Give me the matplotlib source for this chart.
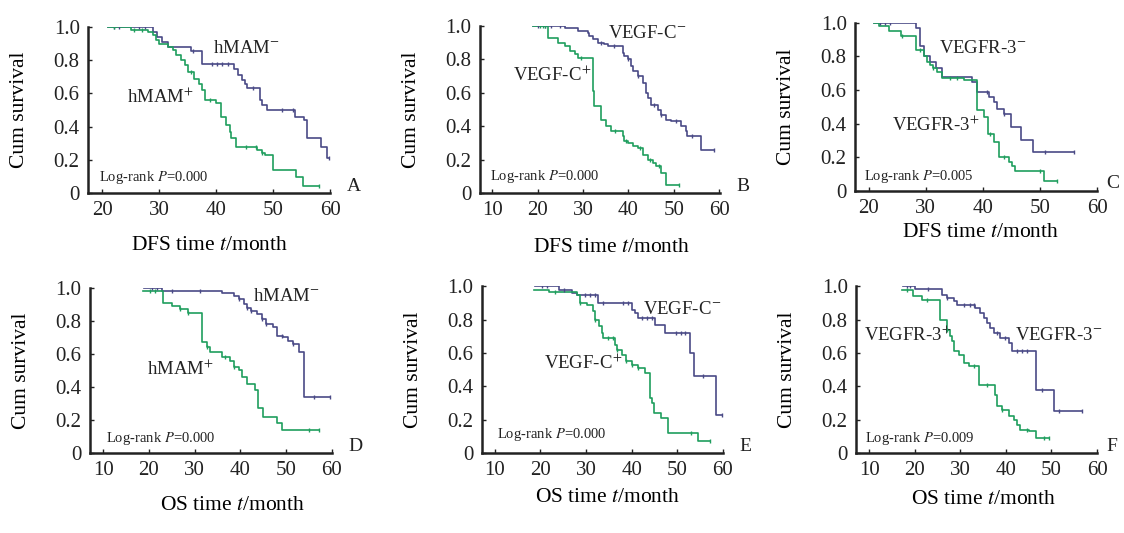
import numpy as np
import matplotlib.pyplot as plt

plt.rcParams['font.family'] = ['Liberation Serif', 'DejaVu Serif']
plt.rcParams['mathtext.fontset'] = 'stix'

BLUE = '#4a4a86'
GREEN = '#1f9e5e'

# ---- A: DFS, hMAM ----
a_neg_t = [21, 29, 29.7, 30.5, 31.5, 35.5, 37.5, 43.2, 43.8, 44.5, 45, 45.5, 47.7, 48, 49, 53.8, 55.5, 56, 58.5, 59.5, 59.8]
a_neg_s = [1.0, 0.97, 0.94, 0.91, 0.88, 0.855, 0.78, 0.745, 0.71, 0.68, 0.655, 0.635, 0.56, 0.53, 0.50, 0.46, 0.44, 0.33, 0.28, 0.21, 0.21]
a_neg_c = [22, 23, 26.5, 27.5, 36, 39.2, 40.2, 41, 42, 46.5, 51.5, 53.5, 59.8]
a_pos_t = [21, 25, 28, 29, 29.5, 30, 31.5, 32.5, 33, 33.8, 34.5, 35, 36.2, 37, 37.5, 38, 40, 40.8, 41.8, 42.4, 42.7, 43.5, 47.2, 48, 48.5, 50, 54, 55.2, 58]
a_pos_s = [1.0, 0.985, 0.97, 0.95, 0.92, 0.90, 0.88, 0.86, 0.83, 0.80, 0.77, 0.73, 0.69, 0.66, 0.62, 0.56, 0.54, 0.46, 0.41, 0.37, 0.33, 0.28, 0.26, 0.24, 0.23, 0.14, 0.096, 0.04, 0.04]
a_pos_c = [22, 25.5, 27, 35.5, 39, 45.2, 47, 48, 58]

# ---- B: DFS, VEGF-C ----
b_neg_t = [19, 26, 28.9, 31.1, 31.4, 32.2, 33.3, 34.7, 35.5, 38.8, 39.1, 39.9, 40.6, 41.0, 42.1, 43.2, 43.9, 44.4, 45.0, 46.5, 47.2, 48.3, 49.4, 51.6, 52.7, 53.0, 56.1, 58.9]
b_neg_s = [1.0, 0.986, 0.97, 0.96, 0.94, 0.92, 0.90, 0.89, 0.88, 0.84, 0.82, 0.80, 0.76, 0.73, 0.70, 0.66, 0.60, 0.57, 0.53, 0.50, 0.47, 0.44, 0.43, 0.40, 0.37, 0.34, 0.26, 0.26]
b_neg_c = [20.1, 21.6, 23, 24.9, 34, 36.9, 39.9, 42.1, 45.7, 47.2, 50.5, 54.1, 58.9]
b_pos_t = [19, 22.3, 24.5, 26, 27.1, 28.2, 29, 32.2, 32.5, 34, 35.1, 36.2, 38.8, 39.1, 39.9, 41, 42.1, 43.2, 44.3, 45.4, 46.1, 47.2, 48.3, 51.2]
b_pos_s = [1.0, 0.93, 0.90, 0.88, 0.85, 0.83, 0.81, 0.61, 0.52, 0.44, 0.40, 0.37, 0.34, 0.31, 0.30, 0.28, 0.27, 0.23, 0.20, 0.18, 0.16, 0.12, 0.045, 0.045]
b_pos_c = [20.6, 21.1, 21.7, 29.5, 37, 39.5, 42.5, 44.8, 46.8, 51.2]

# ---- C: DFS, VEGFR-3 ----
c_neg_t = [20.9, 28.2, 28.9, 29.6, 30.8, 31.7, 32.9, 38.1, 39.0, 41.1, 41.9, 42.5, 43.7, 44.9, 46.7, 48.8, 56]
c_neg_s = [1.0, 0.97, 0.86, 0.80, 0.77, 0.73, 0.68, 0.65, 0.59, 0.56, 0.53, 0.49, 0.46, 0.38, 0.30, 0.23, 0.23]
c_neg_c = [22, 22.9, 23.8, 40.8, 43.7, 50.8, 56]
c_pos_t = [20.9, 21.8, 23.5, 25.6, 28.2, 29.6, 30.2, 30.8, 31.3, 32, 32.9, 36.7, 39.0, 40.2, 40.9, 41.9, 42.8, 44.6, 45.1, 45.7, 50.7, 52.9]
c_pos_s = [1.0, 0.98, 0.95, 0.92, 0.84, 0.80, 0.77, 0.75, 0.73, 0.71, 0.67, 0.66, 0.48, 0.44, 0.34, 0.29, 0.20, 0.17, 0.15, 0.12, 0.06, 0.06]
c_pos_c = [25.8, 28.9, 31.3, 34.3, 35.5, 41.3, 43.7, 50, 52.9]

# ---- D: OS, hMAM ----
d_neg_t = [18.9, 22.8, 35.9, 38.5, 39.6, 40.7, 41.4, 42.3, 43.6, 44.7, 45.5, 47.1, 48, 49.4, 50.5, 51.5, 52.9, 53.9, 59.6]
d_neg_s = [1.0, 0.98, 0.97, 0.95, 0.93, 0.90, 0.88, 0.86, 0.84, 0.81, 0.78, 0.76, 0.71, 0.70, 0.68, 0.66, 0.61, 0.34, 0.34]
d_neg_c = [20.6, 21.7, 25, 31.2, 39.6, 41.4, 42.3, 44.7, 45.5, 49, 51.5, 56, 59.6]
d_pos_t = [18.8, 23, 25, 26.8, 28.6, 31.5, 32.6, 33.4, 35.9, 37.7, 38.5, 39.6, 40.3, 41.4, 43.2, 43.9, 45, 48, 49, 57.1]
d_pos_s = [0.98, 0.91, 0.89, 0.87, 0.85, 0.67, 0.64, 0.61, 0.58, 0.56, 0.52, 0.50, 0.46, 0.42, 0.38, 0.27, 0.22, 0.18, 0.14, 0.14]
d_pos_c = [20.2, 21.3, 26.8, 28.6, 32.6, 36.6, 38.5, 54.9, 57.1]

# ---- E: OS, VEGF-C ----
e_neg_t = [18.9, 24, 26.9, 28, 32.6, 40, 40.7, 41.4, 45.1, 47.3, 52.7, 53.7, 58.5, 59.8]
e_neg_s = [1.0, 0.98, 0.96, 0.95, 0.90, 0.86, 0.84, 0.81, 0.77, 0.72, 0.60, 0.46, 0.23, 0.23]
e_neg_c = [20.3, 21.4, 25.1, 29.8, 30.9, 32, 33.8, 38.2, 39.3, 42.2, 43.3, 44.4, 49.8, 50.9, 51.6, 55.6, 59.8]
e_pos_t = [18.7, 21.8, 28, 28.7, 30.3, 31.6, 32, 32.9, 33.4, 33.8, 36.3, 36.7, 37.8, 38.7, 40, 41.4, 42.9, 44, 44.4, 44.9, 46.4, 48, 54.5, 57.1]
e_pos_s = [0.98, 0.965, 0.95, 0.90, 0.89, 0.85, 0.80, 0.76, 0.72, 0.69, 0.65, 0.62, 0.59, 0.55, 0.53, 0.51, 0.48, 0.33, 0.30, 0.24, 0.21, 0.12, 0.07, 0.07]
e_pos_c = [23.2, 28.7, 32, 34.9, 36, 36.7, 38.7, 40, 41.4, 53.1, 57.1]

# ---- F: OS, VEGFR-3 ----
f_neg_t = [17.5, 20.1, 26, 27.1, 28.5, 29.3, 33.3, 34.4, 35.1, 35.8, 36.6, 37.3, 38.8, 40.6, 41.3, 46.5, 50.6, 56.7]
f_neg_s = [1.0, 0.985, 0.95, 0.93, 0.91, 0.89, 0.87, 0.84, 0.81, 0.78, 0.75, 0.72, 0.69, 0.66, 0.61, 0.38, 0.25, 0.25]
f_neg_c = [18.3, 19, 23, 27.1, 30.7, 32.2, 32.9, 38, 39.9, 42.4, 43.5, 44.6, 47.9, 51.6, 56.7]
f_pos_t = [17.2, 19.7, 21.6, 25.6, 27.1, 27.8, 28.2, 28.5, 29.6, 30.7, 31.8, 34, 37.7, 38, 39.1, 40.6, 41.7, 42.4, 43.2, 45, 46.5, 49.4]
f_pos_s = [0.98, 0.94, 0.915, 0.80, 0.74, 0.70, 0.67, 0.61, 0.59, 0.54, 0.52, 0.41, 0.35, 0.28, 0.26, 0.22, 0.20, 0.17, 0.14, 0.13, 0.09, 0.09]
f_pos_c = [18.3, 22.7, 27.1, 32.9, 35.8, 39.1, 44.6, 48.3, 49.4]

panels = [
    dict(letter='A', lx=1.07, rect=[0.0783, 0.638, 0.2153, 0.311], xlim=(17.5, 60), xticks=[20, 30, 40, 50, 60],
         neg=(a_neg_t, a_neg_s, a_neg_c), pos=(a_pos_t, a_pos_s, a_pos_c),
         neg_lab='hMAM$^{-}$', neg_xy=(39.4, 0.87), pos_lab='hMAM$^{+}$', pos_xy=(24.4, 0.58),
         p='0.000', p_xy=(19.4, 0.096), xlab='DFS time $t$/month', xl=(0.50, -0.26)),
    dict(letter='B', lx=1.07, rect=[0.427, 0.638, 0.2135, 0.313], xlim=(7.3, 60.2), xticks=[10, 20, 30, 40, 50, 60],
         neg=(b_neg_t, b_neg_s, b_neg_c), pos=(b_pos_t, b_pos_s, b_pos_c),
         neg_lab='VEGF-C$^{-}$', neg_xy=(35.5, 0.956), pos_lab='VEGF-C$^{+}$', pos_xy=(14.6, 0.706),
         p='0.000', p_xy=(9.5, 0.096), xlab='DFS time $t$/month', xl=(0.55, -0.27)),
    dict(letter='C', lx=1.04, rect=[0.7607, 0.642, 0.2153, 0.315], xlim=(17.6, 60), xticks=[20, 30, 40, 50, 60],
         neg=(c_neg_t, c_neg_s, c_neg_c), pos=(c_pos_t, c_pos_s, c_pos_c),
         neg_lab='VEGFR-3$^{-}$', neg_xy=(32.3, 0.85), pos_lab='VEGFR-3$^{+}$', pos_xy=(24.1, 0.39),
         p='0.005', p_xy=(19.1, 0.085), xlab='DFS time $t$/month', xl=(0.52, -0.19)),
    dict(letter='D', lx=1.07, rect=[0.080, 0.150, 0.2153, 0.310], xlim=(7.1, 60), xticks=[10, 20, 30, 40, 50, 60],
         neg=(d_neg_t, d_neg_s, d_neg_c), pos=(d_pos_t, d_pos_s, d_pos_c),
         neg_lab='hMAM$^{-}$', neg_xy=(42.8, 0.95), pos_lab='hMAM$^{+}$', pos_xy=(19.5, 0.505),
         p='0.000', p_xy=(10.7, 0.09), xlab='OS time $t$/month', xl=(0.59, -0.26)),
    dict(letter='E', lx=1.07, rect=[0.4288, 0.150, 0.2144, 0.313], xlim=(7.2, 60), xticks=[10, 20, 30, 40, 50, 60],
         neg=(e_neg_t, e_neg_s, e_neg_c), pos=(e_pos_t, e_pos_s, e_pos_c),
         neg_lab='VEGF-C$^{-}$', neg_xy=(42.5, 0.86), pos_lab='VEGF-C$^{+}$', pos_xy=(20.7, 0.536),
         p='0.000', p_xy=(10.5, 0.11), xlab='OS time $t$/month', xl=(0.52, -0.21)),
    dict(letter='F', lx=1.04, rect=[0.7616, 0.150, 0.2144, 0.313], xlim=(7.1, 60), xticks=[10, 20, 30, 40, 50, 60],
         neg=(f_neg_t, f_neg_s, f_neg_c), pos=(f_pos_t, f_pos_s, f_pos_c),
         neg_lab='VEGFR-3$^{-}$', neg_xy=(42.1, 0.706), pos_lab='VEGFR-3$^{+}$', pos_xy=(8.8, 0.706),
         p='0.009', p_xy=(9.1, 0.086), xlab='OS time $t$/month', xl=(0.53, -0.22)),
]


def km(ax, t, s, cens, color):
    t = np.asarray(t)
    s = np.asarray(s)
    ax.step(t, s, where='post', color=color, lw=1.2, zorder=3)
    idx = np.searchsorted(t, cens, side='right') - 1
    ax.plot(cens, s[np.clip(idx, 0, len(s) - 1)], ls='none', marker='|', ms=3,
            mew=1.0, color=color, zorder=4)


fig = plt.figure(figsize=(11.24, 5.33), dpi=100)
for p in panels:
    ax = fig.add_axes(p['rect'])
    km(ax, *p['neg'], BLUE)
    km(ax, *p['pos'], GREEN)
    ax.set_xlim(*p['xlim'])
    ax.set_ylim(0, 1.0)
    ax.set_xticks(p['xticks'])
    ax.set_yticks([0, 0.2, 0.4, 0.6, 0.8, 1.0])
    ax.set_yticklabels(['0', '0.2', '0.4', '0.6', '0.8', '1.0'])
    for sp in ['top', 'right']:
        ax.spines[sp].set_visible(False)
    for sp in ['left', 'bottom']:
        ax.spines[sp].set_linewidth(1.8)
        ax.spines[sp].set_color('#222222')
    ax.tick_params(direction='in', length=3, width=1, labelsize=15, pad=6, colors='#222222')
    ax.set_ylabel('Cum survival', fontsize=15.5)
    ax.yaxis.set_label_coords(-0.245, 0.5)
    ax.set_xlabel(p['xlab'], fontsize=15.5)
    ax.xaxis.set_label_coords(*p['xl'])
    ax.text(*p['neg_xy'], p['neg_lab'], fontsize=13.5, va='center', ha='left', color='#222222')
    ax.text(*p['pos_xy'], p['pos_lab'], fontsize=13.5, va='center', ha='left', color='#222222')
    ax.text(*p['p_xy'], 'Log-rank $P$=' + p['p'], fontsize=10.5, va='center', ha='left', color='#222222')
    ax.text(p['lx'], -0.01, p['letter'], transform=ax.transAxes, fontsize=14, va='bottom', ha='left',
            color='#222222')

fig.savefig('out.png', dpi=100)
